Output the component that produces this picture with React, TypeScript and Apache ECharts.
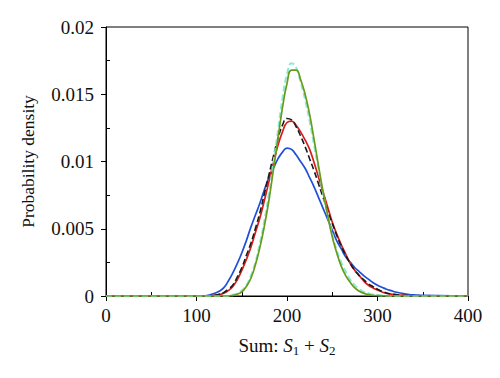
import React, { useEffect, useRef } from "react";
import * as echarts from "echarts";

const xs = [0,
  100, 105, 110, 115, 120, 125, 130, 135, 140, 145, 150, 155, 160, 165, 170, 175, 180, 185, 190, 195,
  200, 205, 210, 215, 220, 225, 230, 235, 240, 245, 250, 255, 260, 265, 270, 275, 280, 285, 290, 295,
  300, 305, 310, 315, 320, 325, 330, 335, 340, 345, 350,
  400];

const blue = [0,
  0, 0, 0.00002, 0.00008, 0.0002, 0.00035, 0.0006, 0.0011, 0.0017, 0.0024, 0.0032, 0.0041, 0.0051, 0.006, 0.0069, 0.0079, 0.0088, 0.0095, 0.0102, 0.0107,
  0.011, 0.0109, 0.0105, 0.01, 0.0095, 0.0088, 0.0081, 0.0073, 0.0065, 0.0057, 0.0049, 0.0041, 0.0035, 0.0029, 0.0025, 0.0021, 0.0018, 0.0015, 0.00125, 0.001,
  0.0008, 0.00065, 0.0005, 0.0004, 0.0003, 0.00022, 0.00016, 0.00011, 0.00008, 0.00006, 0.00004,
  0];

const red = [0,
  0, 0, 0, 0.00001, 0.00005, 0.0001, 0.0002, 0.0004, 0.0007, 0.0012, 0.0019, 0.0027, 0.0036, 0.0047, 0.0058, 0.0071, 0.0085, 0.0099, 0.0112, 0.0122,
  0.0129, 0.013, 0.0127, 0.0122, 0.0116, 0.0109, 0.0099, 0.0088, 0.0077, 0.0066, 0.0055, 0.0046, 0.0038, 0.0031, 0.0024, 0.0019, 0.0015, 0.0011, 0.0008, 0.0006,
  0.00045, 0.0003, 0.0002, 0.00014, 0.0001, 0.00006, 0.00004, 0.00002, 0.00001, 0, 0,
  0];

const blackDashed = [0,
  0, 0, 0, 0.00001, 0.00005, 0.00012, 0.00025, 0.0005, 0.0008, 0.0014, 0.0021, 0.003, 0.0039, 0.005, 0.0062, 0.0076, 0.009, 0.0104, 0.0117, 0.0127,
  0.0132, 0.0131, 0.0126, 0.0119, 0.0111, 0.0102, 0.0093, 0.0083, 0.0073, 0.0063, 0.0054, 0.0045, 0.0037, 0.003, 0.0024, 0.0019, 0.0015, 0.0012, 0.0009, 0.0007,
  0.0005, 0.00035, 0.00022, 0.00015, 0.0001, 0.00006, 0.00004, 0.00002, 0, 0, 0,
  0];

const green = [0,
  0, 0, 0, 0, 0, 0, 0, 0, 0.00005, 0.00013, 0.0003, 0.0007, 0.0013, 0.0023, 0.0036, 0.0052, 0.0071, 0.0094, 0.0117, 0.014,
  0.0158, 0.0168, 0.0168, 0.0161, 0.015, 0.0135, 0.0116, 0.0096, 0.0077, 0.006, 0.0044, 0.0032, 0.0022, 0.0015, 0.001, 0.0006, 0.00035, 0.0002, 0.0001, 0.00005,
  0.00003, 0.00001, 0, 0, 0, 0, 0, 0, 0, 0, 0,
  0];

const cyanDashed = [0,
  0, 0, 0, 0, 0, 0, 0, 0, 0.00008, 0.0002, 0.0004, 0.0008, 0.0015, 0.0025, 0.0039, 0.0056, 0.0076, 0.0099, 0.0123, 0.0147,
  0.0165, 0.0173, 0.017, 0.0159, 0.0146, 0.013, 0.0112, 0.0094, 0.0076, 0.006, 0.0046, 0.0034, 0.0025, 0.0018, 0.0012, 0.0008, 0.0005, 0.0003, 0.0002, 0.00012,
  0.00008, 0.00004, 0.00002, 0, 0, 0, 0, 0, 0, 0, 0,
  0];

const xTicks = [0, 100, 200, 300, 400];
const yTicks = [0, 0.005, 0.01, 0.015, 0.02];

const FONT = "'Liberation Serif', 'DejaVu Serif', serif";

function pairs(ys: number[]) {
  return xs.map((x, i) => [x, ys[i]]);
}

export default function App() {
  const ref = useRef<HTMLDivElement>(null);
  useEffect(() => {
    if (!ref.current) return;
    const chart = echarts.init(ref.current, undefined, { renderer: "svg" });
    const lineBase = {
      type: "line" as const,
      showSymbol: false,
      smooth: 0.5,
      silent: true,
    };
    chart.setOption({
      animation: false,
      backgroundColor: "#ffffff",
      grid: {
        left: 106,
        right: 32,
        top: 27,
        bottom: 82,
        show: true,
        borderColor: "#000",
        borderWidth: 1,
        backgroundColor: "transparent",
      },
      xAxis: [
        {
          type: "value",
          min: xTicks[0],
          max: xTicks[xTicks.length - 1],
          interval: 100,
          name: "Sum: {i|S}{sub|1} + {i|S}{sub|2}",
          nameLocation: "middle",
          nameGap: 37,
          nameTextStyle: {
            color: "#111",
            fontFamily: FONT,
            fontSize: 19,
            lineHeight: 24,
            rich: {
              i: { fontFamily: FONT, fontSize: 19, fontStyle: "italic", color: "#111", lineHeight: 24 },
              sub: { fontFamily: FONT, fontSize: 13, color: "#111", lineHeight: 14, verticalAlign: "bottom" },
            },
          },
          axisLine: { show: true, lineStyle: { color: "#000", width: 1 } },
          axisTick: { show: true, length: 5, lineStyle: { color: "#000" } },
          minorTick: { show: false },
          axisLabel: { color: "#111", fontFamily: FONT, fontSize: 19, margin: 10 },
          splitLine: { show: false },
        },
        {
          type: "value",
          min: xTicks[0],
          max: xTicks[xTicks.length - 1],
          interval: 100,
          position: "bottom",
          axisLine: { show: false },
          axisTick: { show: false, inside: true },
          minorTick: { show: true, splitNumber: 2, length: 4, lineStyle: { color: "#000" } },
          axisLabel: { show: false },
          splitLine: { show: false },
        },
      ],
      yAxis: [
        {
          type: "value",
          min: yTicks[0],
          max: yTicks[yTicks.length - 1],
          interval: 0.005,
          name: "Probability density",
          nameLocation: "middle",
          nameGap: 69,
          nameTextStyle: { color: "#111", fontFamily: FONT, fontSize: 17.5 },
          axisLine: { show: true, lineStyle: { color: "#000", width: 1 } },
          axisTick: { show: true, length: 5, lineStyle: { color: "#000" } },
          minorTick: { show: false },
          axisLabel: { color: "#111", fontFamily: FONT, fontSize: 19, margin: 12 },
          splitLine: { show: false },
        },
        {
          type: "value",
          min: yTicks[0],
          max: yTicks[yTicks.length - 1],
          interval: 0.005,
          position: "left",
          axisLine: { show: false },
          axisTick: { show: false, inside: true },
          minorTick: { show: true, splitNumber: 2, length: 4, lineStyle: { color: "#000" } },
          axisLabel: { show: false },
          splitLine: { show: false },
        },
      ],
      series: [
        { ...lineBase, name: "blue", data: pairs(blue), lineStyle: { color: "#1f4fd6", width: 1.7 }, itemStyle: { color: "#1f4fd6" } },
        { ...lineBase, name: "red", data: pairs(red), lineStyle: { color: "#d91c1c", width: 1.7 }, itemStyle: { color: "#d91c1c" } },
        { ...lineBase, name: "black", data: pairs(blackDashed), lineStyle: { color: "#1a1a1a", width: 1.6, type: [6, 3] }, itemStyle: { color: "#1a1a1a" } },
        { ...lineBase, name: "cyan", data: pairs(cyanDashed), lineStyle: { color: "#88ecd4", width: 2, type: [6, 3] }, itemStyle: { color: "#88ecd4" } },
        { ...lineBase, name: "green", data: pairs(green), lineStyle: { color: "#6a9a1c", width: 1.7 }, itemStyle: { color: "#6a9a1c" } },
      ],
    });
    return () => chart.dispose();
  }, []);
  return (
    <div
      ref={ref}
      style={{ position: "fixed", left: 0, top: 0, width: 500, height: 378, background: "#fff" }}
    />
  );
}
